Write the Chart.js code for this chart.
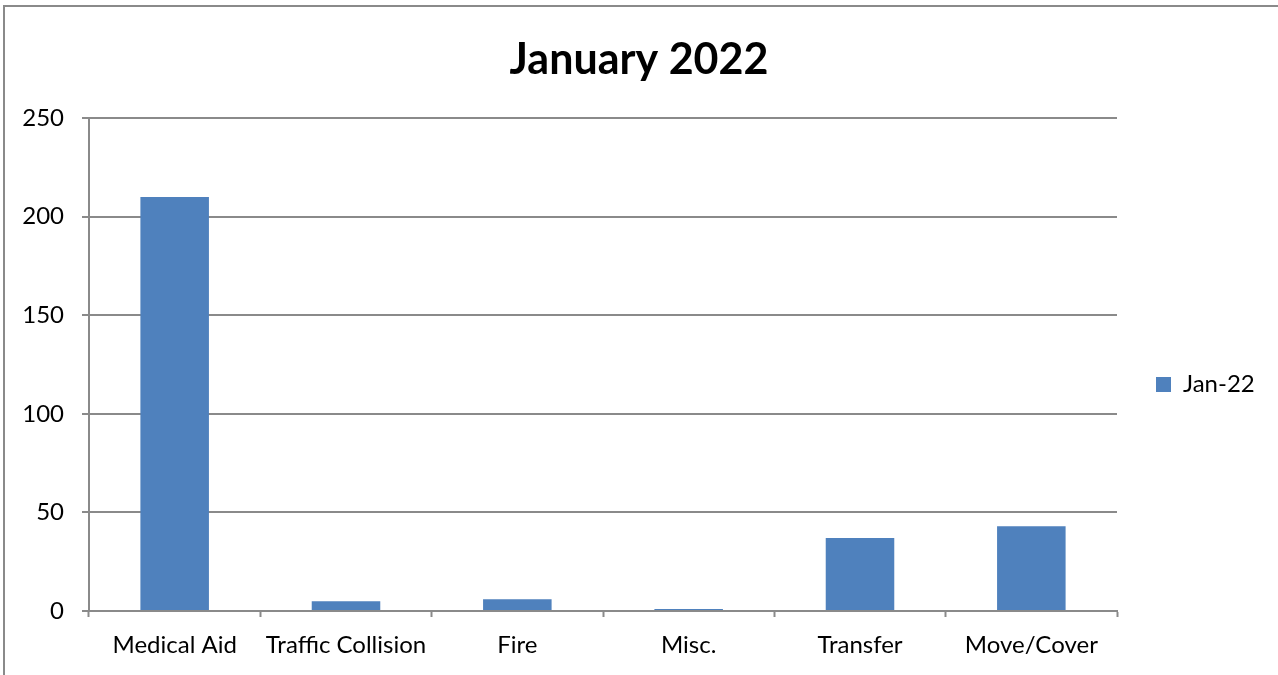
<!DOCTYPE html>
<html>
<head>
<meta charset="utf-8">
<title>January 2022</title>
<script src="https://cdn.jsdelivr.net/npm/chart.js@4/dist/chart.umd.min.js"></script>
<style>
  html, body { margin: 0; padding: 0; background: #ffffff; }
  #wrap { width: 1278px; height: 675px; position: relative; }
</style>
</head>
<body>
<div id="wrap"><canvas id="c" width="1278" height="675"></canvas></div>
<script>
// Incident categories and counts for the month
const categories = ['Medical Aid', 'Traffic Collision', 'Fire', 'Misc.', 'Transfer', 'Move/Cover'];
const jan22 = [210, 5, 6, 1, 37, 43];
const seriesName = 'Jan-22';
const chartTitle = 'January 2022';
const yTicks = [0, 50, 100, 150, 200, 250];

const FONT = 'Lato, "Open Sans", sans-serif';
const GREY = '#8a8a8a';
const BAR = '#4f81bd';

// Thin frame around the whole chart
const framePlugin = {
  id: 'frame',
  beforeDraw(chart) {
    const ctx = chart.ctx;
    ctx.save();
    ctx.fillStyle = '#ffffff';
    ctx.fillRect(0, 0, chart.width, chart.height);
    ctx.strokeStyle = GREY;
    ctx.lineWidth = 2;
    ctx.strokeRect(4, 6, chart.width + 20, chart.height + 20);
    ctx.restore();
  }
};

// Fixed width for the legend column, and a small downward nudge of its entry
const legendPlacePlugin = {
  id: 'legendPlace',
  beforeLayout(chart) {
    const lg = chart.legend;
    if (lg && !lg._fixedWidth) {
      const fit = lg.fit.bind(lg);
      lg.fit = function () {
        fit();
        this.width = 161;
      };
      lg._fixedWidth = true;
    }
  },
  afterLayout(chart) {
    const lg = chart.legend;
    if (lg) {
      lg.top += 20;
      lg.bottom += 20;
    }
  }
};

new Chart(document.getElementById('c'), {
  type: 'bar',
  data: {
    labels: categories,
    datasets: [{
      label: seriesName,
      data: jan22,
      backgroundColor: BAR,
      borderWidth: 0,
      barPercentage: 0.4,
      categoryPercentage: 1.0
    }]
  },
  options: {
    responsive: false,
    animation: false,
    layout: { padding: 0 },
    plugins: {
      title: {
        display: true,
        text: chartTitle,
        color: '#000000',
        font: { family: FONT, size: 43, weight: 'bold', lineHeight: 1.2 },
        padding: { top: 34, bottom: 32.4 }
      },
      legend: {
        display: true,
        position: 'right',
        fullSize: false,
        labels: {
          boxWidth: 15,
          boxHeight: 15,
          padding: 39,
          color: '#000000',
          font: { family: FONT, size: 24 }
        }
      },
      tooltip: { enabled: false }
    },
    scales: {
      x: {
        offset: true,
        grid: {
          display: true,
          drawOnChartArea: false,
          drawTicks: true,
          tickLength: 6,
          tickWidth: 2,
          tickColor: GREY,
          offset: true
        },
        border: { display: true, color: GREY, width: 2 },
        ticks: {
          color: '#000000',
          padding: 14,
          maxRotation: 0,
          autoSkip: false,
          font: { family: FONT, size: 24 }
        },
        afterFit(scale) { scale.height = 64; }
      },
      y: {
        min: 0,
        max: 250,
        afterBuildTicks(scale) { scale.ticks = yTicks.map(v => ({ value: v })); },
        grid: {
          display: true,
          color: GREY,
          lineWidth: 2,
          drawTicks: true,
          tickLength: 7,
          tickColor: GREY
        },
        border: { display: true, color: GREY, width: 2 },
        ticks: {
          color: '#000000',
          padding: 18,
          font: { family: FONT, size: 24 }
        },
        afterFit(scale) { scale.width = 89; }
      }
    }
  },
  plugins: [framePlugin, legendPlacePlugin]
});
</script>
</body>
</html>
